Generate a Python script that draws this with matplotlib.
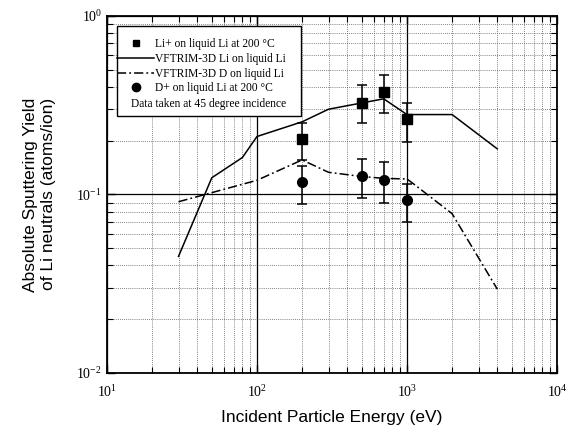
import matplotlib
matplotlib.use('Agg')
import matplotlib.pyplot as plt
from matplotlib.patches import Rectangle
from matplotlib.ticker import LogLocator, LogFormatterMathtext, NullFormatter
import numpy as np

plt.rcParams['mathtext.fontset'] = 'custom'
plt.rcParams['mathtext.rm'] = 'Liberation Serif'
plt.rcParams['mathtext.it'] = 'Liberation Serif:italic'
plt.rcParams['axes.unicode_minus'] = False

# VFTRIM-3D Li on liquid Li
li_sim_e = [30, 50, 80, 100, 200, 300, 700, 1000, 2000, 4000]
li_sim_y = [0.045, 0.124, 0.161, 0.211, 0.255, 0.30, 0.343, 0.28, 0.28, 0.18]

# VFTRIM-3D D on liquid Li
d_sim_e = [30, 80, 100, 200, 300, 500, 700, 1000, 1100, 2000, 4000]
d_sim_y = [0.091, 0.114, 0.12, 0.156, 0.133, 0.126, 0.123, 0.122, 0.115, 0.078, 0.0295]

# Li+ on liquid Li (measured)
li_exp_e = [200, 500, 700, 1000]
li_exp_y = [0.205, 0.327, 0.376, 0.266]
li_exp_lo = [0.156, 0.25, 0.284, 0.197]
li_exp_hi = [0.252, 0.41, 0.467, 0.326]

# D+ on liquid Li (measured)
d_exp_e = [200, 500, 700, 1000]
d_exp_y = [0.117, 0.126, 0.121, 0.093]
d_exp_lo = [0.088, 0.095, 0.089, 0.07]
d_exp_hi = [0.145, 0.157, 0.151, 0.115]

fig = plt.figure(figsize=(5.66, 4.28), dpi=100)
ax = fig.add_axes([0.189, 0.1285, 0.795, 0.8345])
ax.set_xscale('log')
ax.set_yscale('log')
ax.set_xlim(10, 1e4)
ax.set_ylim(1e-2, 1)

ax.xaxis.set_major_locator(LogLocator(base=10))
ax.yaxis.set_major_locator(LogLocator(base=10))
ax.xaxis.set_minor_locator(LogLocator(base=10, subs=np.arange(2, 10)))
ax.yaxis.set_minor_locator(LogLocator(base=10, subs=np.arange(2, 10)))
ax.xaxis.set_major_formatter(LogFormatterMathtext())
ax.yaxis.set_major_formatter(LogFormatterMathtext())
ax.xaxis.set_minor_formatter(NullFormatter())
ax.yaxis.set_minor_formatter(NullFormatter())

ax.grid(which='minor', linestyle=(0, (1, 1.5)), color='0.35', linewidth=0.6)
ax.grid(which='major', linestyle='-', color='black', linewidth=0.9)
ax.tick_params(which='both', direction='in', top=True, right=True, labelsize=10, color='black')
ax.tick_params(which='major', length=6, width=1)
ax.tick_params(which='minor', length=4, width=0.8)
ax.tick_params(axis='x', pad=8)
for sp in ax.spines.values():
    sp.set_linewidth(1.3)

l1, = ax.plot(li_sim_e, li_sim_y, color='black', lw=1.1)
l2, = ax.plot(d_sim_e, d_sim_y, color='black', lw=1.1, dashes=(6, 2, 1.2, 2))

li_err = [np.array(li_exp_y) - np.array(li_exp_lo), np.array(li_exp_hi) - np.array(li_exp_y)]
d_err = [np.array(d_exp_y) - np.array(d_exp_lo), np.array(d_exp_hi) - np.array(d_exp_y)]
e1 = ax.errorbar(li_exp_e, li_exp_y, yerr=li_err, fmt='s', color='black', ms=6.5,
                 capsize=3.5, elinewidth=1.1, capthick=1.1, zorder=4)
e2 = ax.errorbar(d_exp_e, d_exp_y, yerr=d_err, fmt='o', color='black', ms=7,
                 capsize=3.5, elinewidth=1.1, capthick=1.1, zorder=4)

# legend box
ax.add_patch(Rectangle((0.022, 0.72), 0.409, 0.252, transform=ax.transAxes,
                       facecolor='white', edgecolor='black', lw=1.0, zorder=5))
h1 = plt.Line2D([], [], marker='s', color='black', ls='none', ms=5)
h4 = plt.Line2D([], [], marker='o', color='black', ls='none', ms=6)
leg = ax.legend([h1, l1, l2, h4],
                ['Li+ on liquid Li at 200 \u00b0C', 'VFTRIM-3D Li on liquid Li',
                 'VFTRIM-3D D on liquid Li', 'D+ on liquid Li at 200 \u00b0C'],
                loc='upper left', bbox_to_anchor=(0.005, 0.96), frameon=False,
                prop={'family': 'Liberation Serif', 'size': 8.3}, handlelength=3.2,
                handletextpad=0.1, labelspacing=0.24, borderpad=0.2)
leg.set_zorder(6)
ax.text(0.2265, 0.754, 'Data taken at 45 degree incidence', transform=ax.transAxes,
        ha='center', va='center', family='Liberation Serif', fontsize=8.3, zorder=7)

for lab in ax.get_xticklabels() + ax.get_yticklabels():
    lab.set_family('Liberation Serif')

ax.set_xlabel('Incident Particle Energy (eV)', family='Liberation Sans', fontsize=12.5, labelpad=7)
ax.set_ylabel('Absolute Sputtering Yield\nof Li neutrals (atoms/ion)', family='Liberation Sans',
              fontsize=12.5, labelpad=15)

fig.savefig('out.png', dpi=100)
